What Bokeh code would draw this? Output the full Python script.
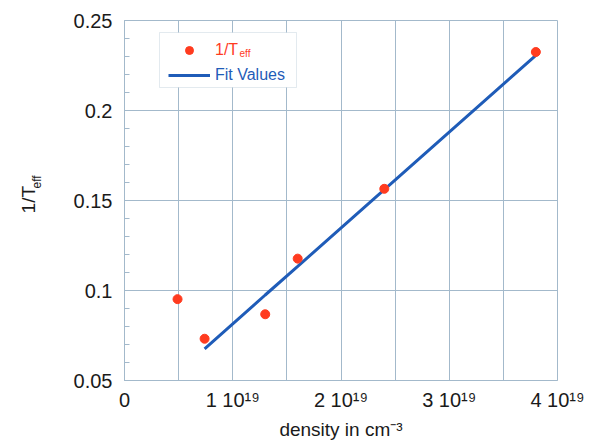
import math
from bokeh.plotting import figure
from bokeh.layouts import row
from bokeh.models import (FixedTicker, Label, Legend, LegendItem, BoxAnnotation,
                          Range1d, ColumnDataSource)
from bokeh.core.properties import value
from bokeh.embed import file_html
from bokeh.resources import INLINE

# ---- data ----
density = [0.49e19, 0.74e19, 1.30e19, 1.60e19, 2.40e19, 3.80e19]
inv_teff = [0.0952, 0.0732, 0.0868, 0.1177, 0.1565, 0.2325]

fit_density = [0.74e19, 1.30e19, 1.60e19, 2.40e19, 3.80e19]
fit_values = [0.0676, 0.0975, 0.1134, 0.1561, 0.2306]

x_ticks = [0, 1e19, 2e19, 3e19, 4e19]
x_tick_labels = ["0", "1 10¹⁹", "2 10¹⁹", "3 10¹⁹", "4 10¹⁹"]
y_ticks = [0.05, 0.1, 0.15, 0.2, 0.25]
y_tick_labels = ["0.05", "0.1", "0.15", "0.2", "0.25"]

FONT = "Liberation Sans"
GRID = "#a3b9cb"
RED = "#ff3b1f"
BLUE = "#1f5cb8"
TXT = "#1a1a1a"

W, H = 594, 446
SIDE = 60                      # narrow strip holding the y-axis title
FL, FR, FT, FB = 124, 557, 20, 380   # frame edges (page px)

# ---- strip with the rotated y-axis title ----
side = figure(width=SIDE, height=H, output_backend="svg", toolbar_location=None,
              x_range=Range1d(0, SIDE), y_range=Range1d(H, 0),
              min_border=0, outline_line_color=None)
side.axis.visible = False
side.grid.visible = False
side.text(x=[28], y=[222], text=["1/T"], angle=math.pi / 2,
          text_align="center", text_baseline="middle",
          text_font=value(FONT), text_font_size="19px", text_color=TXT)
side.text(x=[36], y=[200], text=["eff"], angle=math.pi / 2,
          text_align="center", text_baseline="middle",
          text_font=value(FONT), text_font_size="12px", text_color=TXT)

# ---- main plot ----
p = figure(width=W - SIDE, height=H, output_backend="svg", toolbar_location=None,
           x_range=Range1d(0, 4e19), y_range=Range1d(0.05, 0.25),
           min_border_left=FL - SIDE, min_border_right=W - FR,
           min_border_top=FT, min_border_bottom=H - FB)
p.background_fill_color = "white"
p.border_fill_color = "white"
p.outline_line_color = GRID
p.outline_line_width = 1

p.xaxis.ticker = FixedTicker(ticks=x_ticks)
p.xaxis.major_label_overrides = dict(zip(x_ticks, x_tick_labels))
y_minor = [round(0.05 + 0.01 * i, 2) for i in range(21)]
p.yaxis.ticker = FixedTicker(ticks=y_ticks, minor_ticks=y_minor)
p.yaxis.major_label_overrides = dict(zip(y_ticks, y_tick_labels))

for ax in (p.xaxis[0], p.yaxis[0]):
    ax.axis_line_color = GRID
    ax.major_tick_in = 0
    ax.major_tick_out = 0
    ax.major_label_text_font = FONT
    ax.major_label_text_font_size = "20px"
    ax.major_label_text_color = TXT
p.xaxis.minor_tick_in = 0
p.xaxis.minor_tick_out = 0
p.yaxis.minor_tick_in = 5
p.yaxis.minor_tick_out = 0
p.yaxis.minor_tick_line_color = GRID
p.xaxis.major_label_standoff = 8
p.yaxis.major_label_standoff = 12

p.xaxis.axis_label = "density in cm⁻³"
p.xaxis.axis_label_text_font = FONT
p.xaxis.axis_label_text_font_size = "19px"
p.xaxis.axis_label_text_font_style = "normal"
p.xaxis.axis_label_text_color = TXT
p.xaxis.axis_label_standoff = 5

p.xgrid.ticker = FixedTicker(ticks=[i * 0.5e19 for i in range(9)])
p.ygrid.ticker = FixedTicker(ticks=y_ticks)
for g in (p.xgrid[0], p.ygrid[0]):
    g.grid_line_color = GRID
    g.grid_line_width = 1

src_pts = ColumnDataSource(dict(x=density, y=inv_teff))
src_fit = ColumnDataSource(dict(x=fit_density, y=fit_values))
r_fit = p.line("x", "y", source=src_fit, line_color=BLUE, line_width=3)
r_pts = p.scatter("x", "y", source=src_pts, size=9, fill_color=RED, line_color=RED)

def fx(cx):
    return cx - FL

def fy(cy):
    return FB - cy

# legend frame (drawn under the legend entries)
p.add_layout(BoxAnnotation(left=fx(159), right=fx(296), top=fy(32), bottom=fy(87),
                           left_units="screen", right_units="screen",
                           top_units="screen", bottom_units="screen",
                           fill_color="white", fill_alpha=1.0,
                           line_color=GRID, line_width=1, level="underlay"))

def make_legend(item, color, bottom_cy):
    return Legend(items=[item], location=(fx(168), fy(bottom_cy)),
                  border_line_color=None, background_fill_alpha=0,
                  padding=0, margin=0, glyph_width=42, glyph_height=20,
                  label_standoff=5, label_text_font=FONT,
                  label_text_font_size="16px", label_text_color=color)

lg1 = make_legend(LegendItem(label="1/T", renderers=[r_pts]), RED, 60)
lg2 = make_legend(LegendItem(label="Fit Values", renderers=[r_fit]), BLUE, 85)
p.add_layout(lg1, "center")
p.add_layout(lg2, "center")
p.add_layout(Label(x=fx(239), y=fy(53), x_units="screen", y_units="screen",
                   text="eff", text_align="left", text_baseline="middle",
                   text_font=FONT, text_font_size="10px", text_color=RED))

layout = row(side, p, spacing=0)
open("out.html", "w").write(file_html(layout, INLINE))
